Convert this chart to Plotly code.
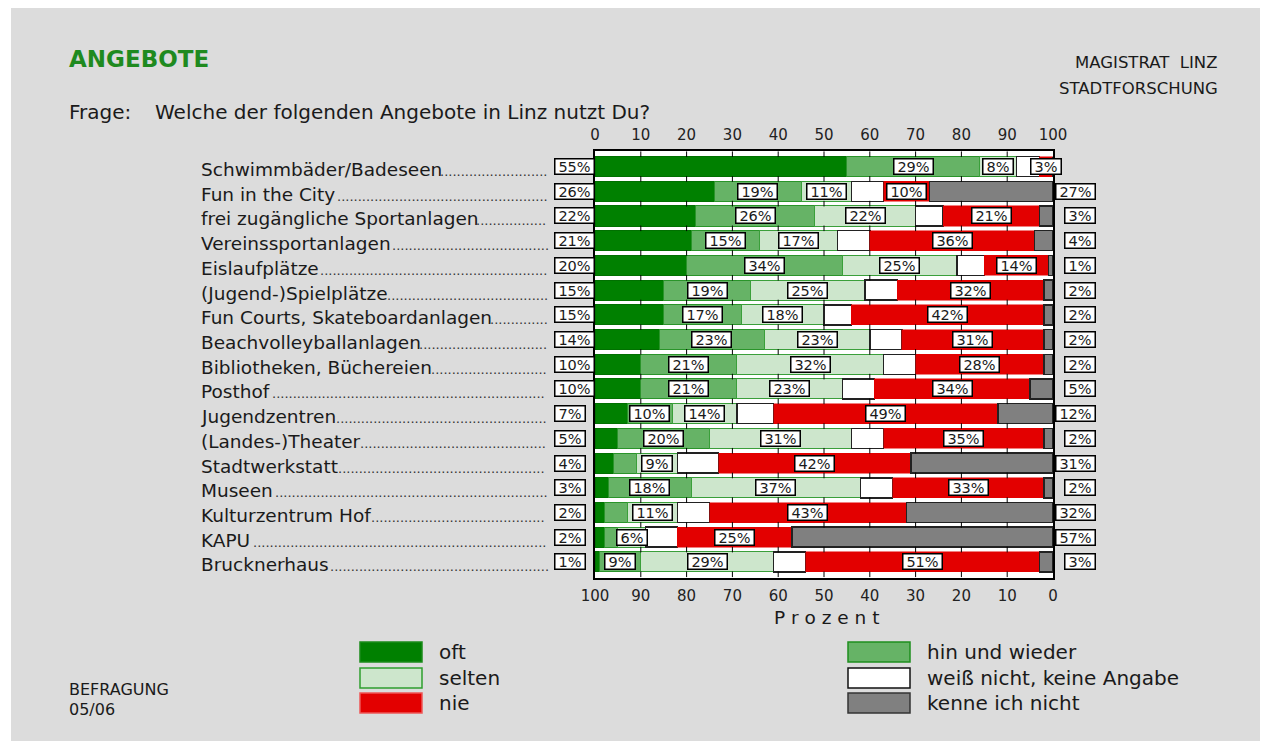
import plotly.graph_objects as go

# ---------------- data ----------------
categories = ["Schwimmbäder/Badeseen", "Fun in the City", "frei zugängliche Sportanlagen",
              "Vereinssportanlagen", "Eislaufplätze", "(Jugend-)Spielplätze",
              "Fun Courts, Skateboardanlagen", "Beachvolleyballanlagen",
              "Bibliotheken, Büchereien", "Posthof", "Jugendzentren", "(Landes-)Theater",
              "Stadtwerkstatt", "Museen", "Kulturzentrum Hof", "KAPU", "Brucknerhaus"]
oft = [55, 26, 22, 21, 20, 15, 15, 14, 10, 10, 7, 5, 4, 3, 2, 2, 1]
hin_und_wieder = [29, 19, 26, 15, 34, 19, 17, 23, 21, 21, 10, 20, 5, 18, 5, 3, 9]
selten = [8, 11, 22, 17, 25, 25, 18, 23, 32, 23, 14, 31, 9, 37, 11, 6, 29]
weiss_nicht = [5, 7, 6, 7, 6, 7, 6, 7, 7, 7, 8, 7, 9, 7, 7, 7, 7]
nie = [3, 10, 21, 36, 14, 32, 42, 31, 28, 34, 49, 35, 42, 33, 43, 25, 51]
kenne_nicht = [0, 27, 3, 4, 1, 2, 2, 2, 2, 5, 12, 2, 31, 2, 32, 57, 3]
top_ticks = [0, 10, 20, 30, 40, 50, 60, 70, 80, 90, 100]
bottom_ticks = [100, 90, 80, 70, 60, 50, 40, 30, 20, 10, 0]

FONT = "DejaVu Sans"
BG = "#dcdcdc"
TXT = "#1a1a1a"

# page offset of the figure (browser body margin) and geometry (reference px)
OFF = 8
W, H = 1268 - OFF, 749 - 2 * OFF
L, R, T, B = 595, 1053, 151, 578   # plot frame in reference page pixels


def px(x):
    return (x - L) / (R - L)


def py(y):
    return (B - y) / (B - T)


# approximate DejaVu Sans advance widths (em) for leader-dot placement
CW = {" ": .318, "(": .390, ")": .390, "-": .361, ",": .318, ".": .318, "/": .337,
      "A": .684, "B": .686, "C": .698, "D": .770, "E": .632, "F": .575, "H": .752,
      "J": .295, "K": .656, "L": .557, "M": .863, "P": .603, "S": .635, "T": .611,
      "U": .732, "V": .684, "a": .613, "b": .635, "c": .550, "d": .635, "e": .615,
      "f": .352, "g": .635, "h": .634, "i": .278, "k": .579, "l": .278, "m": .974,
      "n": .634, "o": .612, "p": .635, "r": .411, "s": .521, "t": .392, "u": .634,
      "v": .592, "w": .818, "y": .592, "z": .525, "ä": .613, "ü": .634, "ß": .635}


def text_w(s, size):
    return sum(CW.get(ch, .6) for ch in s) * size


n = len(categories)
rows = list(range(n))

series = [
    ("oft", oft, "#008000", "#007000", 1),
    ("hin und wieder", hin_und_wieder, "#66b366", "#2a942a", 1),
    ("selten", selten, "#cde6cc", "#3a9f3a", 1),
    ("weiß nicht, keine Angabe", weiss_nicht, "#ffffff", "#222222", 1.5),
    ("nie", nie, "#e30000", "#e30000", 0.5),
    ("kenne ich nicht", kenne_nicht, "#808080", "#222222", 1.5),
]

fig = go.Figure()
for name, vals, col, lc, lw in series:
    fig.add_trace(go.Bar(y=rows, x=vals, orientation="h", name=name,
                         marker=dict(color=col, line=dict(color=lc, width=lw)),
                         hovertemplate=name + ": %{x}%<extra></extra>"))

# small grid tick marks between rows
gx, gy = [], []
for k in range(n + 1):
    for t in top_ticks[1:-1]:
        gx.append(t)
        gy.append(k - 0.5)
fig.add_trace(go.Scatter(x=gx, y=gy, mode="markers", hoverinfo="skip", showlegend=False,
                         marker=dict(symbol="line-ns", size=4,
                                     line=dict(color="#000000", width=1))))
# dummy trace for reversed bottom axis
fig.add_trace(go.Scatter(x=[50], y=[0], xaxis="x2", yaxis="y", mode="markers",
                         hoverinfo="skip", showlegend=False, marker=dict(opacity=0)))

ann = []


def box(text, x, y, xref, xanchor="center"):
    w = 38 if len(text) >= 3 else 29
    ann.append(dict(text=text, x=x, y=y, xref=xref, yref="y", xanchor=xanchor,
                    yanchor="middle", showarrow=False, width=w, height=14,
                    bgcolor="#ffffff", bordercolor="#000000", borderwidth=1.5,
                    borderpad=0, font=dict(family=FONT, size=14.5, color=TXT)))


NAME_SIZE = 18.5
DOT_SIZE = 13
DOT_END = 548
for i in rows:
    name_x = 200
    ann.append(dict(text=categories[i], x=px(name_x), y=i, xref="paper", yref="y",
                    xanchor="left", yanchor="middle", showarrow=False, yshift=-3,
                    borderpad=0, font=dict(family=FONT, size=NAME_SIZE, color=TXT)))
    start = name_x + text_w(categories[i], NAME_SIZE) * 0.975 + 4
    ndots = int((DOT_END - start) / (CW["."] * DOT_SIZE))
    if ndots > 0:
        ann.append(dict(text="." * ndots, x=px(start), y=i, xref="paper", yref="y",
                        xanchor="left", yanchor="middle", showarrow=False, yshift=-5,
                        borderpad=0, font=dict(family=FONT, size=DOT_SIZE, color="#333333")))
    # oft (outside left)
    box(f"{oft[i]}%", px(554), i, "paper", "left")
    # inner labels
    c0 = oft[i]
    h = hin_und_wieder[i]
    if h >= 6:
        box(f"{h}%", c0 + h / 2, i, "x")
    c1 = c0 + h
    s = selten[i]
    if s >= 6:
        box(f"{s}%", c1 + s / 2, i, "x")
    c2 = c1 + s + weiss_nicht[i]
    ni = nie[i]
    if ni > 0:
        box(f"{ni}%", c2 + ni / 2, i, "x")
    # kenne ich nicht (outside right)
    if kenne_nicht[i] > 0:
        box(f"{kenne_nicht[i]}%", px(1096), i, "paper", "right")


def text(t, x, y, size, anchor="left", color=TXT, bold=False):
    ann.append(dict(text=f"<b>{t}</b>" if bold else t, x=px(x), y=py(y), xref="paper",
                    yref="paper", xanchor=anchor, yanchor="middle", showarrow=False,
                    font=dict(family=FONT, size=size, color=color)))


text("ANGEBOTE", 67, 59, 23, bold=True, color="#1f8a1f")
text("MAGISTRAT  LINZ", 1220, 62, 16.5, anchor="right")
text("STADTFORSCHUNG", 1220, 88, 16.5, anchor="right")
text("Frage:", 67, 112, 20)
text("Welche der folgenden Angebote in Linz nutzt Du?", 153, 112, 20)
text("P r o z e n t", 826, 617, 18.5, anchor="center")
text("BEFRAGUNG", 67, 689, 16)
text("05/06", 67, 709, 16)

# legend
shapes = []
legend_items = [
    ("oft", "#008000", "#1a8a1a", 360, 652),
    ("selten", "#cde6cc", "#2e9e2e", 360, 678),
    ("nie", "#e30000", "#ee5555", 360, 703),
    ("hin und wieder", "#66b366", "#1e8f1e", 848, 652),
    ("weiß nicht, keine Angabe", "#ffffff", "#111111", 848, 678),
    ("kenne ich nicht", "#808080", "#333333", 848, 703),
]
for lab, fc, lc, x0, yc in legend_items:
    shapes.append(dict(type="rect", xref="paper", yref="paper", x0=px(x0), x1=px(x0 + 62),
                       y0=py(yc + 10), y1=py(yc - 10), fillcolor=fc,
                       line=dict(color=lc, width=1.5)))
    text(lab, x0 + 77, yc, 20)

# slightly wider white margin on the left, as in the reference
shapes.append(dict(type="rect", xref="paper", yref="paper", x0=px(OFF), x1=px(11),
                   y0=py(800), y1=py(0), fillcolor="#ffffff", line=dict(width=0)))

fig.update_layout(
    width=W, height=H, barmode="stack", bargap=0.19, showlegend=False,
    paper_bgcolor=BG, plot_bgcolor="#ffffff",
    margin=dict(l=L - OFF, r=W - (R - OFF), t=T - OFF, b=H - (B - OFF), pad=0),
    xaxis=dict(range=[0, 100], side="top", tickvals=top_ticks, showgrid=False,
               zeroline=False, showline=True, linecolor="#000000", linewidth=1.5,
               mirror=True, ticks="outside", ticklen=3, tickcolor="rgba(0,0,0,0)",
               tickfont=dict(family=FONT, size=15, color="#222222")),
    xaxis2=dict(range=[100, 0], overlaying="x", side="bottom", anchor="y",
                tickvals=bottom_ticks, showgrid=False, zeroline=False, showline=False,
                ticks="outside", ticklen=4, tickcolor="rgba(0,0,0,0)",
                tickfont=dict(family=FONT, size=15, color="#222222")),
    yaxis=dict(range=[n - 1 + 0.65, -0.63], showticklabels=False, showgrid=False,
               zeroline=False, showline=True, mirror=True, linecolor="#000000",
               linewidth=1.5, ticks=""),
    annotations=ann, shapes=shapes,
)

fig.write_html("out.html")
